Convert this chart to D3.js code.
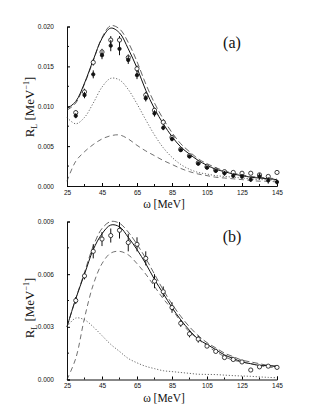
<!DOCTYPE html>
<html>
<head>
<meta charset="utf-8">
<script src="https://cdn.jsdelivr.net/npm/d3@7/dist/d3.min.js"></script>
<style>
  body { margin: 0; background: #fff; }
  text { fill: #111; }
</style>
</head>
<body>
<div id="chart"></div>
<script>
// measured points, every 5 MeV
var omegaPts = [30, 35, 40, 45, 50, 55, 60, 65, 70, 75, 80, 85, 90, 95, 100, 105, 110, 115, 120, 125, 130, 135, 140, 145];

// panel (a): open and filled symbols
var openA = [0.0092, 0.0118, 0.0155, 0.0168, 0.0183, 0.0183, 0.0161, 0.0147, 0.0114, 0.0095, 0.0080, 0.0061, 0.0046, 0.0038, 0.0029, 0.0024, 0.0020, 0.0018, 0.0017, 0.0016, 0.0016, 0.0014, 0.0012, 0.0017];
var openAErr = [0.0003, 0.0004, 0.0004, 0.0004, 0.0005, 0.0005, 0.0004, 0.0004, 0.0004, 0.0003, 0.0003, 0.0003, 0.0002, 0.0002, 0.0002, 0.0002, 0.0002, 0.0002, 0.0002, 0.0002, 0.0002, 0.0002, 0.0002, 0.0001];
var filledA = [0.0088, 0.0114, 0.0140, 0.0164, 0.0176, 0.0172, 0.0158, 0.0139, 0.0110, 0.0091, 0.0073, 0.0059, 0.0045, 0.0037, 0.0028, 0.0023, 0.0019, 0.0016, 0.0013, 0.0012, 0.0008, 0.0012, 0.0007, 0.0005];
var filledAErr = [0.0003, 0.0004, 0.0005, 0.0005, 0.0007, 0.0008, 0.0005, 0.0005, 0.0004, 0.0004, 0.0003, 0.0003, 0.0002, 0.0002, 0.0002, 0.0002, 0.0002, 0.0003, 0.0003, 0.0003, 0.0003, 0.0004, 0.0004, 0.0003];

// panel (b): open symbols
var openB = [0.0045, 0.0059, 0.0073, 0.0080, 0.0082, 0.0085, 0.0078, 0.0077, 0.0069, 0.0056, 0.0050, 0.0041, 0.0032, 0.0026, 0.0023, 0.0019, 0.0016, 0.00125, 0.00114, 0.0010, 0.00054, 0.00072, 0.00076, 0.00069];
var openBErr = [0.0002, 0.0002, 0.0004, 0.0004, 0.0004, 0.00047, 0.0005, 0.0004, 0.0004, 0.0004, 0.0003, 0.0003, 0.0002, 0.0002, 0.0002, 0.0001, 0.0001, 0.0001, 0.0001, 0.0001, 0.0001, 0.0001, 0.0001, 0.0001];

// calculated curves
var omegaCurve = [25, 30, 35, 40, 45, 50, 55, 60, 65, 70, 75, 80, 85, 90, 95, 100, 105, 110, 115, 120, 125, 130, 135, 140, 145];

var solidA  = [0.0097, 0.0106, 0.0129, 0.0158, 0.0185, 0.0198, 0.0192, 0.0172, 0.0148, 0.0120, 0.0097, 0.0078, 0.0062, 0.0049, 0.0040, 0.0032, 0.0026, 0.0021, 0.0018, 0.0015, 0.0013, 0.0011, 0.0010, 0.0009, 0.0008];
var dashUpA = [0.0095, 0.0104, 0.0128, 0.0157, 0.0186, 0.0201, 0.0197, 0.0180, 0.0156, 0.0128, 0.0104, 0.0084, 0.0067, 0.0053, 0.0043, 0.0034, 0.0028, 0.0023, 0.0019, 0.0016, 0.0014, 0.0012, 0.0011, 0.0010, 0.0009];
var dottedA = [0.0086, 0.0078, 0.0086, 0.0104, 0.0124, 0.0135, 0.0133, 0.0121, 0.0103, 0.0083, 0.0064, 0.0048, 0.0036, 0.0027, 0.0021, 0.0017, 0.0015, 0.0013, 0.0012, 0.0011, 0.0010, 0.0009, 0.0008, 0.0008, 0.0007];
var dashLoA = [0.0006, 0.0031, 0.0043, 0.0052, 0.0059, 0.0063, 0.0064, 0.0059, 0.0051, 0.0044, 0.0038, 0.0032, 0.0027, 0.0022, 0.0018, 0.0015, 0.0013, 0.0011, 0.0010, 0.0009, 0.0008, 0.0007, 0.0006, 0.0006, 0.0005];

var solidB  = [0.0030, 0.0046, 0.0060, 0.0074, 0.0083, 0.0088, 0.0087, 0.0081, 0.0074, 0.0066, 0.0057, 0.0049, 0.0041, 0.0034, 0.0028, 0.0023, 0.0020, 0.0017, 0.0014, 0.0012, 0.0010, 0.0009, 0.0008, 0.0008, 0.0007];
var dashUpB = [0.0030, 0.0046, 0.0061, 0.0076, 0.0086, 0.0090, 0.0089, 0.0084, 0.0077, 0.0069, 0.0060, 0.0051, 0.0043, 0.0036, 0.0030, 0.0025, 0.0021, 0.0018, 0.0015, 0.0013, 0.0011, 0.0010, 0.0009, 0.0008, 0.0008];
var dottedB = [0.0030, 0.0035, 0.0034, 0.0030, 0.0025, 0.0020, 0.0016, 0.0012, 0.00095, 0.00075, 0.00062, 0.0005, 0.00045, 0.0004, 0.00035, 0.0003, 0.00029, 0.00028, 0.00025, 0.00022, 0.0002, 0.00018, 0.00015, 0.00012, 0.0001];
var dashLoB = [0.0000, 0.0012, 0.0035, 0.0054, 0.0066, 0.0072, 0.0073, 0.0071, 0.0066, 0.0060, 0.0053, 0.0046, 0.0040, 0.0033, 0.0027, 0.0023, 0.0019, 0.0016, 0.0013, 0.0011, 0.0010, 0.0009, 0.0008, 0.0007, 0.0007];

// axis ticks
var xTickLabels = [25, 45, 65, 85, 105, 125, 145];
var xMinorTicks = [35, 55, 75, 95, 115, 135];
var yTicksA = [0.000, 0.005, 0.010, 0.015, 0.020];
var yMinorA = [0.0025, 0.0075, 0.0125, 0.0175];
var yTicksB = [0.000, 0.003, 0.006, 0.009];
var yMinorB = [0.0015, 0.0045, 0.0075];

var width = 323, height = 418;
var svg = d3.select("#chart").append("svg")
    .attr("width", width)
    .attr("height", height);

var x = d3.scaleLinear().domain([25, 145]).range([67, 277]);

function drawPanel(opt) {
    var y = d3.scaleLinear().domain(opt.domain).range([opt.bottom, opt.top]);
    var g = svg.append("g");

    // x axis, ticks pointing inward
    var xAxis = g.append("g")
        .attr("transform", "translate(0," + opt.bottom + ")")
        .call(d3.axisBottom(x).tickValues(xTickLabels).tickSize(-3).tickPadding(4)
            .tickFormat(d3.format("d")));
    xAxis.selectAll("text").attr("font-family", "Liberation Sans, sans-serif").attr("font-size", "6.5px");
    xAxis.append("g").selectAll("line").data(xMinorTicks).enter().append("line")
        .attr("x1", function (d) { return x(d); }).attr("x2", function (d) { return x(d); })
        .attr("y1", 0).attr("y2", -2).attr("stroke", "#111");

    // y axis, ticks pointing inward
    var yAxis = g.append("g")
        .attr("transform", "translate(" + x(25) + ",0)")
        .call(d3.axisLeft(y).tickValues(opt.ticks).tickSize(-3).tickPadding(13)
            .tickFormat(d3.format(".3f")));
    yAxis.selectAll("text").attr("font-family", "Liberation Sans, sans-serif").attr("font-size", "6.5px");
    yAxis.append("g").selectAll("line").data(opt.minor).enter().append("line")
        .attr("y1", function (d) { return y(d); }).attr("y2", function (d) { return y(d); })
        .attr("x1", 0).attr("x2", 2).attr("stroke", "#111");
    g.selectAll(".domain").attr("stroke", "#111");

    // curves
    var line = d3.line()
        .x(function (d) { return x(d[0]); })
        .y(function (d) { return y(d[1]); })
        .curve(d3.curveCatmullRom.alpha(0.5));
    opt.curves.forEach(function (c) {
        g.append("path")
            .datum(omegaCurve.map(function (w, i) { return [w, c.values[i]]; }))
            .attr("fill", "none")
            .attr("stroke", c.color)
            .attr("stroke-width", c.width)
            .attr("stroke-dasharray", c.dash)
            .attr("d", line);
    });

    // data points with error bars
    opt.points.forEach(function (p) {
        var pts = omegaPts.map(function (w, i) { return { w: w, v: p.values[i], e: p.err[i] }; });
        g.append("g").selectAll("line").data(pts).enter().append("line")
            .attr("x1", function (d) { return x(d.w); })
            .attr("x2", function (d) { return x(d.w); })
            .attr("y1", function (d) { return y(d.v - d.e); })
            .attr("y2", function (d) { return y(d.v + d.e); })
            .attr("stroke", "#111")
            .attr("stroke-width", 1);
        g.append("g").selectAll("circle").data(pts).enter().append("circle")
            .attr("cx", function (d) { return x(d.w); })
            .attr("cy", function (d) { return y(d.v); })
            .attr("r", p.filled ? 1.7 : 2.1)
            .attr("fill", p.filled ? "#111" : "#fff")
            .attr("stroke", "#111")
            .attr("stroke-width", 0.8);
    });

    // axis titles
    var yl = g.append("text")
        .attr("transform", "translate(34," + opt.yLabelY + ") rotate(-90)")
        .attr("text-anchor", "middle")
        .attr("font-family", "Liberation Serif, serif")
        .attr("font-size", "13px");
    yl.append("tspan").text("R");
    yl.append("tspan").attr("font-size", "8px").attr("dy", 3).text("L");
    yl.append("tspan").attr("dy", -3).text(" [MeV");
    yl.append("tspan").attr("font-size", "8px").attr("dy", -5).text("\u22121");
    yl.append("tspan").attr("dy", 5).text("]");

    g.append("text")
        .attr("x", 164).attr("y", opt.xLabelY)
        .attr("text-anchor", "middle")
        .attr("font-family", "Liberation Serif, serif")
        .attr("font-size", "11.5px")
        .text("\u03c9 [MeV]");

    g.append("text")
        .attr("x", 232).attr("y", opt.tagY)
        .attr("text-anchor", "middle")
        .attr("font-family", "Liberation Serif, serif")
        .attr("font-size", "16px")
        .text(opt.tag);
}

drawPanel({
    domain: [0, 0.020], top: 26.5, bottom: 186,
    ticks: yTicksA, minor: yMinorA,
    curves: [
        { values: solidA, width: 1, dash: null, color: "#111" },
        { values: dashUpA, width: 0.7, dash: "6,3", color: "#222" },
        { values: dottedA, width: 0.8, dash: "1.2,1.8", color: "#444" },
        { values: dashLoA, width: 0.7, dash: "5,3.5", color: "#333" }
    ],
    points: [
        { values: openA, err: openAErr, filled: false },
        { values: filledA, err: filledAErr, filled: true }
    ],
    yLabelY: 107, xLabelY: 208, tagY: 48, tag: "(a)"
});

drawPanel({
    domain: [0, 0.009], top: 221.5, bottom: 379.5,
    ticks: yTicksB, minor: yMinorB,
    curves: [
        { values: solidB, width: 1, dash: null, color: "#111" },
        { values: dashUpB, width: 0.7, dash: "6,3", color: "#222" },
        { values: dottedB, width: 0.8, dash: "1.2,1.8", color: "#444" },
        { values: dashLoB, width: 0.7, dash: "5,3.5", color: "#333" }
    ],
    points: [
        { values: openB, err: openBErr, filled: false }
    ],
    yLabelY: 308, xLabelY: 402, tagY: 242, tag: "(b)"
});
</script>
</body>
</html>
